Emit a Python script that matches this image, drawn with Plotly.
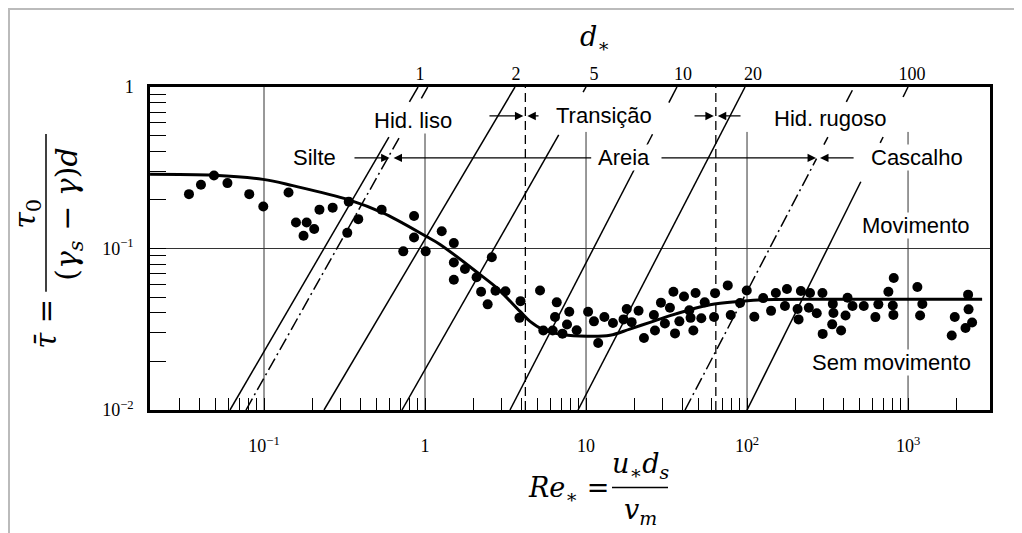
import numpy as np
import plotly.graph_objects as go

# ---------------- data ----------------
pts_re = [0.0342, 0.0406, 0.0489, 0.0593, 0.0810, 0.0990, 0.142, 0.158, 0.184, 0.205,
          0.176, 0.221, 0.267, 0.336, 0.385, 0.329, 0.538, 0.855, 0.855, 0.733,
          1.01, 1.27, 1.51, 1.51, 1.77, 1.51, 2.09, 2.60, 2.23, 2.45,
          2.74, 3.16, 3.92, 3.86, 5.18, 6.58, 6.42, 5.43, 6.21, 7.87,
          7.62, 7.14, 8.75, 10.3, 11.2, 13.0, 14.7, 11.9, 17.1, 17.9,
          19.2, 21.2, 22.9, 26.4, 26.8, 29.2, 30.9, 33.2, 34.9, 35.7,
          38.0, 40.6, 43.8, 44.6, 46.4, 47.9, 52.0, 54.6, 62.4, 63.3,
          75.9, 79.2, 90.5, 99.6, 111, 126, 141, 151, 172, 177,
          209, 206, 216, 246, 242, 271, 294, 295, 341, 344,
          338, 384, 409, 421, 452, 531, 627, 654, 755, 815,
          804, 811, 1143, 1227, 1188, 1950, 1868, 2360, 2376, 2500, 2275]
pts_tau = [0.217, 0.248, 0.283, 0.254, 0.217, 0.182, 0.222, 0.145, 0.145, 0.132,
           0.120, 0.174, 0.179, 0.195, 0.152, 0.125, 0.174, 0.159, 0.117, 0.096,
           0.096, 0.128, 0.108, 0.082, 0.0746, 0.0641, 0.0664, 0.0883, 0.0540, 0.0451,
           0.0548, 0.0544, 0.0472, 0.0372, 0.0550, 0.0464, 0.0377, 0.0311, 0.0311, 0.0406,
           0.0338, 0.0297, 0.0312, 0.0406, 0.0354, 0.0377, 0.0346, 0.0260, 0.0364, 0.0422,
           0.0350, 0.0412, 0.0279, 0.0387, 0.0311, 0.0462, 0.0343, 0.0430, 0.0540, 0.0298,
           0.0354, 0.0505, 0.0414, 0.0372, 0.0311, 0.0530, 0.0370, 0.0464, 0.0377, 0.0529,
           0.0591, 0.0387, 0.0460, 0.0550, 0.0378, 0.0493, 0.0411, 0.0530, 0.0441, 0.0561,
           0.0364, 0.0422, 0.0546, 0.0530, 0.0430, 0.0397, 0.0530, 0.0296, 0.0454, 0.0399,
           0.0339, 0.0311, 0.0385, 0.0496, 0.0440, 0.0440, 0.0376, 0.0451, 0.0540, 0.0657,
           0.0444, 0.0388, 0.0578, 0.0453, 0.0385, 0.0377, 0.0289, 0.0518, 0.0420, 0.0348, 0.0322]

curve_re = [0.0196, 0.0489, 0.0986, 0.151, 0.337, 0.548, 1.014, 1.24, 2.20, 2.80,
            3.89, 4.49, 5.41, 7.19, 10.1, 14.1, 18.7, 25.0, 33.3, 44.3,
            58.9, 90.6, 126, 328, 2884]
curve_tau = [0.288, 0.284, 0.268, 0.245, 0.200, 0.166, 0.119, 0.106, 0.0689, 0.0569,
             0.0408, 0.0354, 0.0315, 0.0293, 0.0286, 0.0290, 0.0317, 0.0349, 0.0384, 0.0418,
             0.0449, 0.0471, 0.0482, 0.0485, 0.0485]

# diagonal d* lines: Re at tau = 0.01 and at tau = 1
line_re_bottom = [0.0615, 0.0773, 0.236, 0.719, 3.37, 8.92, 41.2, 100.0]
line_re_top = [0.905, 1.04, 3.62, 10.0, 36.7, 97.2, 462.0, 1000.0]
line_dash = ["solid", "dashdot", "solid", "solid", "solid", "solid", "dashdot", "solid"]
line_visible_tau = [
    [(0.01, 0.49), (0.81, 1.0)],
    [(0.01, 0.49), (0.85, 1.0)],
    [(0.01, 1.0)],
    [(0.01, 0.505), (0.93, 1.0)],
    [(0.01, 0.51), (0.80, 1.0)],
    [(0.01, 1.0)],
    [(0.01, 0.36), (0.44, 0.49), (0.81, 1.0)],
    [(0.01, 0.259), (0.451, 0.49), (0.867, 1.0)],
]

dstar_labels = ["1", "2", "5", "10", "20", "100"]
dstar_re = [0.93, 3.67, 11.2, 40.0, 109, 1059]

grid_re_full = [0.1]
grid_re_short = [1, 10, 100, 1000]
grid_short_top = 0.527
boundary_re = [4.2, 64]   # dashed regime limits

region_text = ["Hid. liso", "Transição", "Hid. rugoso", "Silte", "Areia", "Cascalho",
               "Movimento", "Sem movimento"]
region_re = [0.842, 12.9, 328, 0.207, 17.2, 1137, 1122, 784]
region_tau = [0.616, 0.662, 0.634, 0.364, 0.364, 0.364, 0.138, 0.0197]

arrow_tau = [0.662, 0.662, 0.662, 0.662, 0.364, 0.364, 0.364, 0.364]
arrow_tail_re = [2.46, 5.18, 46.2, 93.1, 0.357, 11.0, 28.8, 469]
arrow_head_re = [4.2, 4.2, 64, 64, 0.62, 0.62, 276, 276]

x_minor = [m * 10.0 ** k for k in (-2, -1, 0, 1, 2) for m in range(2, 10)] + [2000]
x_minor = [v for v in x_minor if v >= 0.025]
x_major = [0.1, 1, 10, 100, 1000]
x_major_text = ["10<sup>−1</sup>", "1", "10", "10<sup>2</sup>", "10<sup>3</sup>"]
y_minor = [m * 10.0 ** k for k in (-2, -1) for m in range(2, 10)]
y_major = [0.01, 0.1, 1]
y_major_text = ["10<sup>−2</sup>", "10<sup>−1</sup>", "1"]

XR = [-1.708, 3.509]
YR = [-2.0, 0.0]

SERIF = "Liberation Serif, Times New Roman, serif"
SANS = "Liberation Sans, Arial, sans-serif"
MATH = "DejaVu Serif, Liberation Serif, serif"

# page is offset by the 8px body margin of the html page
OFF = 8
fig = go.Figure()

def seg(x, y, dash="solid", width=1.0, color="black"):
    fig.add_trace(go.Scatter(x=x, y=y, mode="lines", hoverinfo="skip", showlegend=False,
                             line=dict(color=color, width=width, dash=dash)))

# grid lines
for g in grid_re_full:
    seg([g, g], [0.01, 1.0], width=1.0, color="#333")
for g in grid_re_short:
    seg([g, g], [0.01, grid_short_top], width=1.0, color="#333")
seg([10 ** XR[0], 10 ** XR[1]], [0.1, 0.1], width=1.0, color="#333")

# dashed regime boundaries
for b in boundary_re:
    seg([b, b], [0.01, 1.0], dash="9px,5px", width=1.3)

# diagonal d* lines
for rb, rt, dsh, vis in zip(line_re_bottom, line_re_top, line_dash, line_visible_tau):
    lb, lt = np.log10(rb), np.log10(rt)
    for t0, t1 in vis:
        ys = [t0, t1]
        xs = [10 ** (lb + (lt - lb) * (np.log10(t) + 2) / 2) for t in ys]
        seg(xs, ys, dash=("13px,4px,2px,4px" if dsh == "dashdot" else "solid"), width=1.5)

# Shields curve
fig.add_trace(go.Scatter(x=curve_re, y=curve_tau, mode="lines", line_shape="spline",
                         line=dict(color="black", width=3), hoverinfo="skip", showlegend=False))
# data points
fig.add_trace(go.Scatter(x=pts_re, y=pts_tau, mode="markers",
                         marker=dict(color="black", size=10), hoverinfo="skip", showlegend=False))
# invisible trace to attach top axis
fig.add_trace(go.Scatter(x=dstar_re, y=[1] * len(dstar_re), xaxis="x2", mode="markers",
                         marker=dict(opacity=0), hoverinfo="skip", showlegend=False))

ann = []
for t, r, ta in zip(region_text, region_re, region_tau):
    ann.append(dict(x=np.log10(r), y=np.log10(ta), xref="x", yref="y", text=t, showarrow=False,
                    xanchor="center", yanchor="middle",
                    font=dict(family=SANS, size=22, color="black"), bgcolor="white", borderpad=0))
for ta, rt, rh in zip(arrow_tau, arrow_tail_re, arrow_head_re):
    ann.append(dict(x=np.log10(rh), y=np.log10(ta), ax=np.log10(rt), ay=np.log10(ta),
                    xref="x", yref="y", axref="x", ayref="y", text="", showarrow=True,
                    arrowhead=2, arrowsize=1.3, arrowwidth=1.3, arrowcolor="black", standoff=2))

def paper_x(px):
    return (px - 150) / 840.0

def paper_y(py):
    return (410.5 - py) / 323.5

def ptext(px, py, text, angle=0, size=27):
    ann.append(dict(x=paper_x(px), y=paper_y(py), xref="paper", yref="paper", showarrow=False,
                    xanchor="center", yanchor="middle", text=text, textangle=angle,
                    font=dict(family=MATH, size=size, color="black")))

# y-axis title (rotated fraction)
ptext(46, 324, "<i>τ̄</i> =", -90, 29)
ptext(27, 214, "<i>τ</i><sub>0</sub>", -90, 30)
ptext(69, 214, "(<i>γ</i><sub><i>s</i></sub> − <i>γ</i>)<i>d</i>", -90, 30)
# top title d*
ptext(595, 38, "<i>d</i><sub>∗</sub>")
# x-axis title
ptext(568, 490, "<i>Re</i><sub>∗</sub> =")
ptext(641, 466, "<i>u</i><sub>∗</sub><i>d</i><sub><i>s</i></sub>")
ptext(640, 512, "<i>v</i><sub><i>m</i></sub>")

shapes = [
    dict(type="line", xref="paper", yref="paper", x0=paper_x(46), x1=paper_x(46),
         y0=paper_y(134), y1=paper_y(292), line=dict(color="black", width=1.5)),
    dict(type="line", xref="paper", yref="paper", x0=paper_x(612), x1=paper_x(668),
         y0=paper_y(488), y1=paper_y(488), line=dict(color="black", width=1.5)),
    # outer light border of the picture
    dict(type="line", xref="paper", yref="paper", x0=paper_x(0), x1=paper_x(1030),
         y0=paper_y(9), y1=paper_y(9), line=dict(color="#bbbbbb", width=2)),
    dict(type="line", xref="paper", yref="paper", x0=paper_x(9), x1=paper_x(9),
         y0=paper_y(9), y1=paper_y(540), line=dict(color="#bbbbbb", width=2)),
]

fig.update_layout(
    width=1022 - OFF, height=533 - OFF,
    margin=dict(l=150 - OFF, r=32, t=87 - OFF, b=122.5, autoexpand=False),
    paper_bgcolor="white", plot_bgcolor="white",
    showlegend=False,
    annotations=ann, shapes=shapes,
    xaxis=dict(type="log", range=XR, showgrid=False, zeroline=False,
               showline=True, linecolor="black", linewidth=2.5, mirror=True,
               tickmode="array", tickvals=x_major + x_minor,
               ticktext=x_major_text + [""] * len(x_minor),
               ticks="inside", ticklen=12, tickwidth=1, tickcolor="black",
               ticklabelstandoff=18,
               tickfont=dict(family=SERIF, size=18, color="black")),
    xaxis2=dict(type="log", range=XR, overlaying="x", side="top", showgrid=False,
                zeroline=False, showline=False, ticks="",
                tickmode="array", tickvals=dstar_re, ticktext=dstar_labels,
                ticklabelstandoff=2,
                tickfont=dict(family=SERIF, size=18, color="black")),
    yaxis=dict(type="log", range=YR, showgrid=False, zeroline=False,
               showline=True, linecolor="black", linewidth=2.5, mirror=True,
               tickmode="array", tickvals=y_major + y_minor,
               ticktext=y_major_text + [""] * len(y_minor),
               ticks="inside", ticklen=16, tickwidth=1, tickcolor="black",
               ticklabelstandoff=10,
               tickfont=dict(family=SERIF, size=18, color="black")),
)

fig.write_html("out.html")
